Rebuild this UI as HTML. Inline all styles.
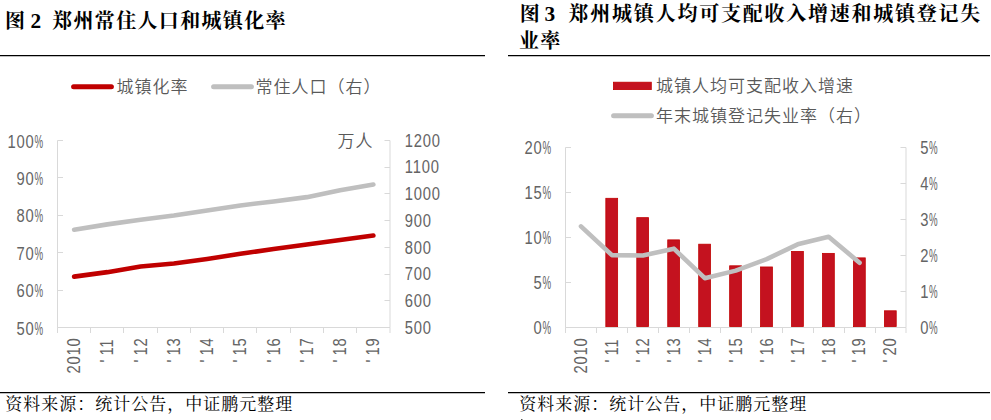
<!DOCTYPE html>
<html lang="zh-CN"><head><meta charset="utf-8"><title>郑州常住人口和城镇化率</title>
<style>
html,body{margin:0;padding:0;background:#fff}
#page{position:relative;width:991px;height:420px;overflow:hidden;background:#fff}
.t{position:absolute;white-space:nowrap;font-family:"Liberation Serif","Noto Serif CJK SC",serif;font-weight:bold;font-size:20px;line-height:27px;color:#000;letter-spacing:1.33px}
.s{position:absolute;white-space:nowrap;font-family:"Liberation Serif","Noto Serif CJK SC",serif;font-size:17px;letter-spacing:1px;line-height:22px;color:#000;font-weight:400}
svg{position:absolute;left:0;top:0}
svg text{font-family:"Liberation Sans","Noto Sans CJK SC",sans-serif;font-size:17px;fill:#595959;letter-spacing:1px;font-weight:350}
svg text.n{font-family:"Liberation Sans",sans-serif;font-size:17.6px;letter-spacing:0;font-weight:400;fill:#646464}
svg text.d{letter-spacing:0.93px}
</style></head><body><div id="page">
<div class="t" style="left:5.1px;top:8.4px">图</div><div class="t" style="left:30.6px;top:8.4px;font-size:21.33px;letter-spacing:0">2</div><div class="t" style="left:52.2px;top:8.4px">郑州常住人口和城镇化率</div>
<div class="t" style="left:519.8px;top:1.3px">图</div><div class="t" style="left:544.4px;top:1.3px;font-size:21.33px;letter-spacing:0">3</div><div class="t" style="left:568.6px;top:1.3px;letter-spacing:1.76px">郑州城镇人均可支配收入增速和城镇登记失</div>
<div class="t" style="left:519px;top:28.1px">业率</div>
<div class="s" style="left:5.2px;top:393.8px">资料来源：统计公告，中证鹏元整理</div>
<div class="s" style="left:519.2px;top:393.8px">资料来源：统计公告，中证鹏元整理</div>
<svg width="991" height="420" viewBox="0 0 991 420">
<path d="M0 55.5H485M508 55.5H990M0 392.5H485M508 392.5H990" stroke="#000" stroke-width="1.25" fill="none"/>
<rect x="521" y="419" width="1.5" height="1" fill="#555"/>
<path d="M57.5 140.5V327.5H390V140.5M57.5 327.5h5.5M57.5 290.5h5.5M57.5 252.5h5.5M57.5 215.5h5.5M57.5 177.5h5.5M57.5 140.5h5.5M390 327.5h-5.5M390 300.5h-5.5M390 274.5h-5.5M390 247.5h-5.5M390 220.5h-5.5M390 193.5h-5.5M390 167.5h-5.5M390 140.5h-5.5M57.5 327.5v5.5M90.5 327.5v5.5M123.5 327.5v5.5M157.5 327.5v5.5M190.5 327.5v5.5M223.5 327.5v5.5M256.5 327.5v5.5M290.5 327.5v5.5M323.5 327.5v5.5M356.5 327.5v5.5M390 327.5v5.5" fill="none" stroke="#d9d9d9" stroke-width="1"/>
<g transform="translate(43.2 334.5)"><text class="n d" transform="translate(-26.6 0) scale(0.84 1)">50</text><text class="n" transform="translate(-8.7 0) scale(.55 1)">%</text></g><g transform="translate(43.2 297.1)"><text class="n d" transform="translate(-26.6 0) scale(0.84 1)">60</text><text class="n" transform="translate(-8.7 0) scale(.55 1)">%</text></g><g transform="translate(43.2 259.7)"><text class="n d" transform="translate(-26.6 0) scale(0.84 1)">70</text><text class="n" transform="translate(-8.7 0) scale(.55 1)">%</text></g><g transform="translate(43.2 222.3)"><text class="n d" transform="translate(-26.6 0) scale(0.84 1)">80</text><text class="n" transform="translate(-8.7 0) scale(.55 1)">%</text></g><g transform="translate(43.2 184.9)"><text class="n d" transform="translate(-26.6 0) scale(0.84 1)">90</text><text class="n" transform="translate(-8.7 0) scale(.55 1)">%</text></g><g transform="translate(43.2 147.5)"><text class="n d" transform="translate(-35.6 0) scale(0.84 1)">100</text><text class="n" transform="translate(-8.7 0) scale(.55 1)">%</text></g>
<g transform="translate(404.4 333.7)"><text class="n d" transform="translate(0.4 0) scale(0.84 1)">500</text></g><g transform="translate(404.4 306.99)"><text class="n d" transform="translate(0.4 0) scale(0.84 1)">600</text></g><g transform="translate(404.4 280.27)"><text class="n d" transform="translate(0.4 0) scale(0.84 1)">700</text></g><g transform="translate(404.4 253.56)"><text class="n d" transform="translate(0.4 0) scale(0.84 1)">800</text></g><g transform="translate(404.4 226.84)"><text class="n d" transform="translate(0.4 0) scale(0.84 1)">900</text></g><g transform="translate(404.4 200.13)"><text class="n d" transform="translate(0.4 0) scale(0.84 1)">1000</text></g><g transform="translate(404.4 173.41)"><text class="n d" transform="translate(0.4 0) scale(0.84 1)">1100</text></g><g transform="translate(404.4 146.7)"><text class="n d" transform="translate(0.4 0) scale(0.84 1)">1200</text></g>
<g transform="translate(80.03 338) rotate(-90)"><text class="n d" transform="translate(-35.6 0) scale(0.84 1)">2010</text></g><g transform="translate(113.28 338) rotate(-90)"><text class="n" transform="translate(-24.7 0)">'</text><text class="n d" transform="translate(-17.6 0) scale(0.84 1)">11</text></g><g transform="translate(146.53 338) rotate(-90)"><text class="n" transform="translate(-24.7 0)">'</text><text class="n d" transform="translate(-17.6 0) scale(0.84 1)">12</text></g><g transform="translate(179.78 338) rotate(-90)"><text class="n" transform="translate(-24.7 0)">'</text><text class="n d" transform="translate(-17.6 0) scale(0.84 1)">13</text></g><g transform="translate(213.03 338) rotate(-90)"><text class="n" transform="translate(-24.7 0)">'</text><text class="n d" transform="translate(-17.6 0) scale(0.84 1)">14</text></g><g transform="translate(246.28 338) rotate(-90)"><text class="n" transform="translate(-24.7 0)">'</text><text class="n d" transform="translate(-17.6 0) scale(0.84 1)">15</text></g><g transform="translate(279.52 338) rotate(-90)"><text class="n" transform="translate(-24.7 0)">'</text><text class="n d" transform="translate(-17.6 0) scale(0.84 1)">16</text></g><g transform="translate(312.77 338) rotate(-90)"><text class="n" transform="translate(-24.7 0)">'</text><text class="n d" transform="translate(-17.6 0) scale(0.84 1)">17</text></g><g transform="translate(346.02 338) rotate(-90)"><text class="n" transform="translate(-24.7 0)">'</text><text class="n d" transform="translate(-17.6 0) scale(0.84 1)">18</text></g><g transform="translate(379.27 338) rotate(-90)"><text class="n" transform="translate(-24.7 0)">'</text><text class="n d" transform="translate(-17.6 0) scale(0.84 1)">19</text></g>
<polyline points="74.12,229.73 107.38,224.38 140.62,219.84 173.88,215.57 207.12,210.49 240.38,205.42 273.62,201.41 306.88,197.13 340.12,190.19 373.38,184.58" fill="none" stroke="#bfbfbf" stroke-width="4.6" stroke-linecap="round" stroke-linejoin="round"/>
<polyline points="74.12,276.64 107.38,272.15 140.62,266.54 173.88,263.55 207.12,259.06 240.38,253.82 273.62,248.96 306.88,244.47 340.12,239.98 373.38,235.5" fill="none" stroke="#c00000" stroke-width="4.6" stroke-linecap="round" stroke-linejoin="round"/>
<text x="337.5" y="146.6">万人</text>
<path d="M73.6 86.7H111.4" stroke="#c00000" stroke-width="5" stroke-linecap="round"/><text x="116.5" y="93.4">城镇化率</text>
<path d="M213.6 86.7H251.4" stroke="#bfbfbf" stroke-width="5" stroke-linecap="round"/><text x="255.5" y="93.4">常住人口（右）</text>
<g fill="#c4121f" stroke="#c00000" stroke-width=".8"><rect x="605.83" y="198.3" width="11.8" height="128.3"/><rect x="636.79" y="217.65" width="11.8" height="108.95"/><rect x="667.74" y="239.88" width="11.8" height="86.72"/><rect x="698.7" y="244.2" width="11.8" height="82.4"/><rect x="729.65" y="265.8" width="11.8" height="60.8"/><rect x="760.6" y="266.97" width="11.8" height="59.63"/><rect x="791.56" y="251.4" width="11.8" height="75.2"/><rect x="822.51" y="253.38" width="11.8" height="73.22"/><rect x="853.47" y="257.88" width="11.8" height="68.72"/><rect x="884.42" y="310.8" width="11.8" height="15.8"/></g>
<path d="M565.5 147.5V327.5H906V147.5M565.5 327.5h5.5M565.5 282.5h5.5M565.5 237.5h5.5M565.5 192.5h5.5M565.5 147.5h5.5M906 327.5h-5.5M906 291.5h-5.5M906 255.5h-5.5M906 219.5h-5.5M906 183.5h-5.5M906 147.5h-5.5M565.5 327.5v5.5M596.5 327.5v5.5M627.5 327.5v5.5M658.5 327.5v5.5M689.5 327.5v5.5M720.5 327.5v5.5M751.5 327.5v5.5M782.5 327.5v5.5M813.5 327.5v5.5M844.5 327.5v5.5M875.5 327.5v5.5M906 327.5v5.5" fill="none" stroke="#d9d9d9" stroke-width="1"/>
<g transform="translate(551.2 334.3)"><text class="n d" transform="translate(-17.6 0) scale(0.84 1)">0</text><text class="n" transform="translate(-8.7 0) scale(.55 1)">%</text></g><g transform="translate(551.2 289.3)"><text class="n d" transform="translate(-17.6 0) scale(0.84 1)">5</text><text class="n" transform="translate(-8.7 0) scale(.55 1)">%</text></g><g transform="translate(551.2 244.3)"><text class="n d" transform="translate(-26.6 0) scale(0.84 1)">10</text><text class="n" transform="translate(-8.7 0) scale(.55 1)">%</text></g><g transform="translate(551.2 199.3)"><text class="n d" transform="translate(-26.6 0) scale(0.84 1)">15</text><text class="n" transform="translate(-8.7 0) scale(.55 1)">%</text></g><g transform="translate(551.2 154.3)"><text class="n d" transform="translate(-26.6 0) scale(0.84 1)">20</text><text class="n" transform="translate(-8.7 0) scale(.55 1)">%</text></g>
<g transform="translate(919.8 333.7)"><text class="n d" transform="translate(0.4 0) scale(0.84 1)">0</text><text class="n" transform="translate(9.3 0) scale(.55 1)">%</text></g><g transform="translate(919.8 297.7)"><text class="n d" transform="translate(0.4 0) scale(0.84 1)">1</text><text class="n" transform="translate(9.3 0) scale(.55 1)">%</text></g><g transform="translate(919.8 261.7)"><text class="n d" transform="translate(0.4 0) scale(0.84 1)">2</text><text class="n" transform="translate(9.3 0) scale(.55 1)">%</text></g><g transform="translate(919.8 225.7)"><text class="n d" transform="translate(0.4 0) scale(0.84 1)">3</text><text class="n" transform="translate(9.3 0) scale(.55 1)">%</text></g><g transform="translate(919.8 189.7)"><text class="n d" transform="translate(0.4 0) scale(0.84 1)">4</text><text class="n" transform="translate(9.3 0) scale(.55 1)">%</text></g><g transform="translate(919.8 153.7)"><text class="n d" transform="translate(0.4 0) scale(0.84 1)">5</text><text class="n" transform="translate(9.3 0) scale(.55 1)">%</text></g>
<g transform="translate(586.88 338) rotate(-90)"><text class="n d" transform="translate(-35.6 0) scale(0.84 1)">2010</text></g><g transform="translate(617.83 338) rotate(-90)"><text class="n" transform="translate(-24.7 0)">'</text><text class="n d" transform="translate(-17.6 0) scale(0.84 1)">11</text></g><g transform="translate(648.79 338) rotate(-90)"><text class="n" transform="translate(-24.7 0)">'</text><text class="n d" transform="translate(-17.6 0) scale(0.84 1)">12</text></g><g transform="translate(679.74 338) rotate(-90)"><text class="n" transform="translate(-24.7 0)">'</text><text class="n d" transform="translate(-17.6 0) scale(0.84 1)">13</text></g><g transform="translate(710.7 338) rotate(-90)"><text class="n" transform="translate(-24.7 0)">'</text><text class="n d" transform="translate(-17.6 0) scale(0.84 1)">14</text></g><g transform="translate(741.65 338) rotate(-90)"><text class="n" transform="translate(-24.7 0)">'</text><text class="n d" transform="translate(-17.6 0) scale(0.84 1)">15</text></g><g transform="translate(772.6 338) rotate(-90)"><text class="n" transform="translate(-24.7 0)">'</text><text class="n d" transform="translate(-17.6 0) scale(0.84 1)">16</text></g><g transform="translate(803.56 338) rotate(-90)"><text class="n" transform="translate(-24.7 0)">'</text><text class="n d" transform="translate(-17.6 0) scale(0.84 1)">17</text></g><g transform="translate(834.51 338) rotate(-90)"><text class="n" transform="translate(-24.7 0)">'</text><text class="n d" transform="translate(-17.6 0) scale(0.84 1)">18</text></g><g transform="translate(865.47 338) rotate(-90)"><text class="n" transform="translate(-24.7 0)">'</text><text class="n d" transform="translate(-17.6 0) scale(0.84 1)">19</text></g><g transform="translate(896.42 338) rotate(-90)"><text class="n" transform="translate(-24.7 0)">'</text><text class="n d" transform="translate(-17.6 0) scale(0.84 1)">20</text></g>
<polyline points="580.98,226.34 611.93,255.14 642.89,255.5 673.84,248.66 704.8,278.18 735.75,270.62 766.7,259.1 797.66,244.34 828.61,236.78 859.57,262.7" fill="none" stroke="#bfbfbf" stroke-width="4.6" stroke-linecap="round" stroke-linejoin="round"/>
<rect x="613.4" y="82.2" width="37.9" height="7.4" fill="#c4121f" stroke="#c00000" stroke-width=".8"/><text x="656" y="92">城镇人均可支配收入增速</text>
<path d="M613.6 115.7H651.4" stroke="#bfbfbf" stroke-width="5" stroke-linecap="round"/><text x="656" y="121.7">年末城镇登记失业率（右）</text>
</svg>
</div></body></html>
